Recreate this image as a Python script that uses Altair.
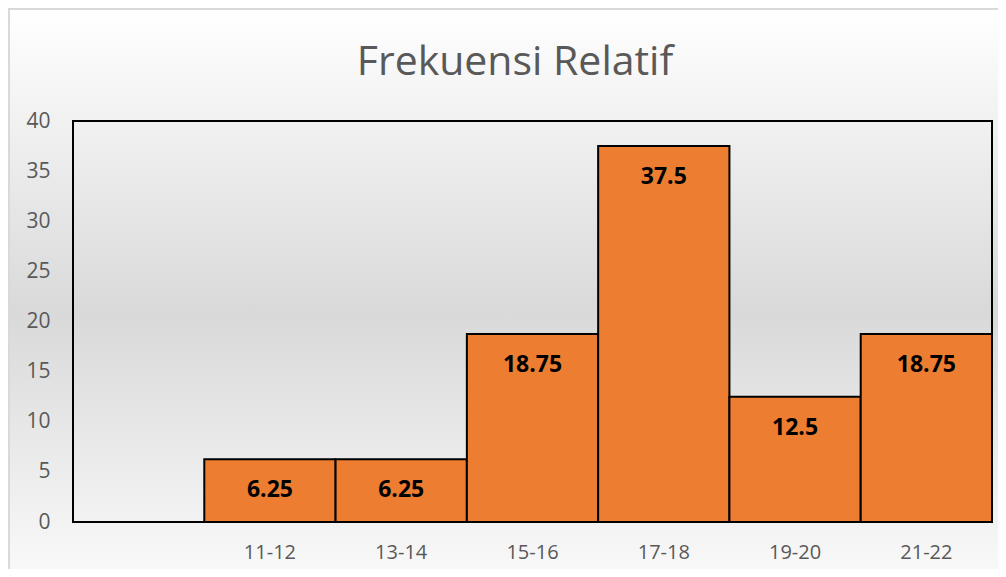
import altair as alt
import pandas as pd

# Data
categories = [" ", "11-12", "13-14", "15-16", "17-18", "19-20", "21-22"]
bar_categories = ["11-12", "13-14", "15-16", "17-18", "19-20", "21-22"]
values = [6.25, 6.25, 18.75, 37.5, 12.5, 18.75]
labels = ["6.25", "6.25", "18.75", "37.5", "12.5", "18.75"]
y_ticks = [0, 5, 10, 15, 20, 25, 30, 35, 40]
title_text = "Frekuensi Relatif"

W, H = 919, 401
FONT = "Open Sans"

df = pd.DataFrame({"cat": bar_categories, "val": values, "lab": labels})

x_enc = alt.X(
    "cat:N",
    sort=categories,
    scale=alt.Scale(domain=categories, paddingInner=0, paddingOuter=0),
    axis=alt.Axis(
        title=None, labelAngle=0, ticks=False, tickSize=0, domain=False, grid=False,
        labelFont=FONT, labelFontSize=20, labelColor="#595959",
        labelPadding=20, zindex=2,
    ),
)
y_enc = alt.Y(
    "val:Q",
    scale=alt.Scale(domain=[0, 40], nice=False),
    axis=alt.Axis(
        title=None, values=y_ticks, ticks=False, tickSize=0, domain=False, grid=False,
        labelFont=FONT, labelFontSize=21, labelColor="#595959", labelPadding=23,
        zindex=2,
    ),
)

gradient = alt.LinearGradient(
    gradient="linear", x1=0, y1=0, x2=0, y2=1,
    stops=[
        alt.GradientStop(offset=0, color="#ffffff"),
        alt.GradientStop(offset=0.52, color="#d9d9d9"),
        alt.GradientStop(offset=1, color="#fbfbfb"),
    ],
)

one = pd.DataFrame({"a": [0]})

bg = alt.Chart(one).mark_rect(
    color=gradient, stroke="#d9d9d9", strokeWidth=2
).encode(
    x=alt.value(-64), x2=alt.value(W + 20), y=alt.value(-112), y2=alt.value(H + 70)
)

frame = alt.Chart(one).mark_rect(
    fill=None, fillOpacity=0, stroke="#000000", strokeWidth=2
).encode(
    x=alt.value(0), x2=alt.value(W), y=alt.value(0), y2=alt.value(H)
)

title = alt.Chart(pd.DataFrame({"t": [title_text]})).mark_text(
    font=FONT, fontSize=41, color="#595959", align="center", baseline="alphabetic"
).encode(x=alt.value(442), y=alt.value(-46), text="t:N")

bars = alt.Chart(df).mark_bar(
    color="#ED7D31", stroke="#000000", strokeWidth=2
).encode(x=x_enc, y=y_enc)

text = alt.Chart(df).mark_text(
    font=FONT, fontSize=23, fontWeight="bold", color="#000000",
    baseline="middle", dy=31
).encode(x=alt.X("cat:N", sort=categories), y="val:Q", text="lab:N")

chart = alt.layer(bg, frame, bars, text, title).properties(
    width=W, height=H,
    autosize=alt.AutoSizeParams(type="none"),
    padding={"left": 65, "top": 113, "right": 6, "bottom": 47},
).configure_view(
    fill=None, stroke=None
).configure(background="#ffffff")

chart.save("out.html", embed_options={"renderer": "svg", "actions": False})
